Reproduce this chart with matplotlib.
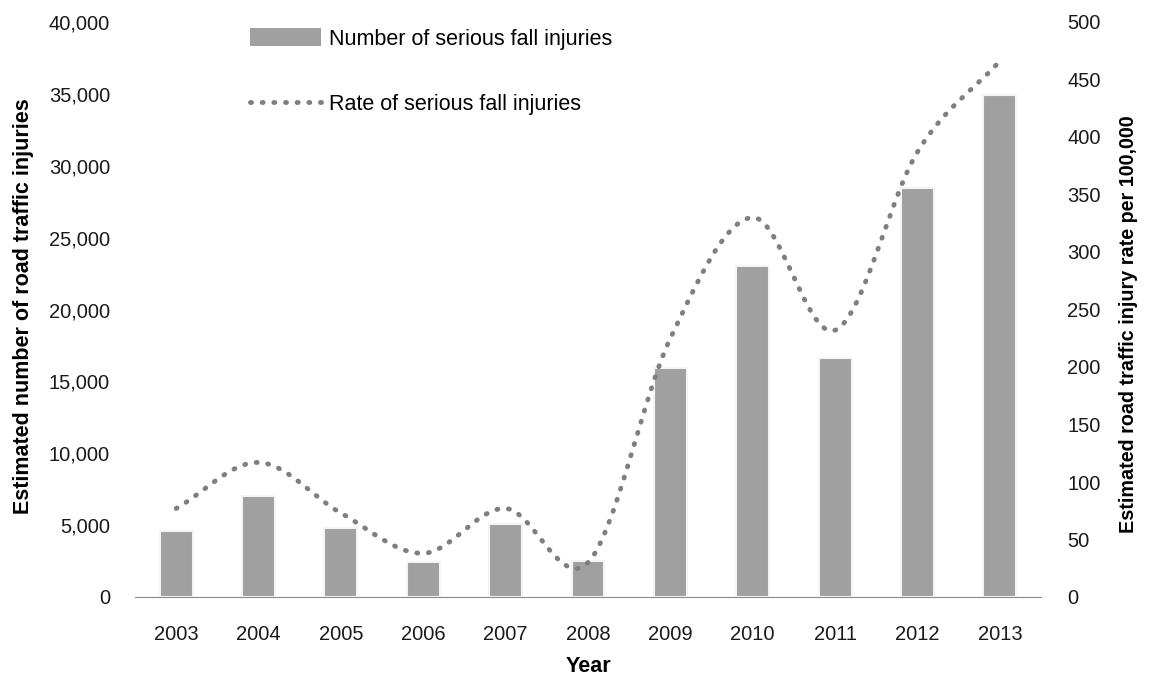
import numpy as np
import matplotlib
matplotlib.use('Agg')
import matplotlib.pyplot as plt
from matplotlib.lines import Line2D
from matplotlib.patches import Patch

years = ['2003', '2004', '2005', '2006', '2007', '2008',
         '2009', '2010', '2011', '2012', '2013']
injuries = [4600, 7050, 4800, 2450, 5080, 2500,
            15900, 23050, 16650, 28450, 34950]
rates = [77, 117, 73, 38, 77, 30, 225, 330, 232, 387, 466]

plt.rcParams['font.family'] = ['Liberation Sans', 'DejaVu Sans']


def smooth(xs, ys, n=40):
    # Catmull-Rom curve through the points, like Excel's smoothed line
    xs = np.asarray(xs, float)
    ys = np.asarray(ys, float)
    px = np.concatenate([[2 * xs[0] - xs[1]], xs, [2 * xs[-1] - xs[-2]]])
    py = np.concatenate([[2 * ys[0] - ys[1]], ys, [2 * ys[-1] - ys[-2]]])
    out_x, out_y = [], []
    t = np.linspace(0, 1, n)
    for i in range(1, len(px) - 2):
        for p, out in ((px, out_x), (py, out_y)):
            p0, p1, p2, p3 = p[i - 1], p[i], p[i + 1], p[i + 2]
            out.extend(0.5 * ((2 * p1) + (-p0 + p2) * t
                              + (2 * p0 - 5 * p1 + 4 * p2 - p3) * t ** 2
                              + (-p0 + 3 * p1 - 3 * p2 + p3) * t ** 3))
    return np.array(out_x), np.array(out_y)


fig = plt.figure(figsize=(11.54, 6.83), dpi=100)
ax = fig.add_axes([135 / 1154, 1 - 597 / 683, 906 / 1154, 575 / 683])
x = np.arange(len(years))

ax.bar(x, injuries, width=0.4, color='#a0a0a0', edgecolor='#f4f4f4',
       linewidth=1.5, zorder=2)
ax.set_ylim(0, 40000)
ax.set_xlim(-0.5, len(years) - 0.5)
ax.set_yticks(np.arange(0, 40001, 5000))
ax.set_yticklabels([f'{v:,}' for v in range(0, 40001, 5000)])
ax.set_xticks(x)
ax.set_xticklabels(years)
for s in ['top', 'right', 'left']:
    ax.spines[s].set_visible(False)
ax.spines['bottom'].set_color('#8c8c8c')
ax.tick_params(axis='both', length=0, labelsize=14.5, colors='#1a1a1a')
ax.tick_params(axis='y', pad=18)
ax.tick_params(axis='x', pad=20)
ax.set_ylabel('Estimated number of road traffic injuries', fontsize=15.5,
              fontweight='bold')
ax.yaxis.set_label_coords(-101 / 906, 0.505)
ax.set_xlabel('Year', fontsize=15.5, fontweight='bold', labelpad=9)

ax2 = ax.twinx()
sx, sy = smooth(x, rates)
ax2.plot(sx, sy, color='#7f7f7f', linestyle=(0, (0.2, 2.2)), linewidth=3.5,
         dash_capstyle='round', zorder=3)
ax2.set_ylim(0, 500)
ax2.set_yticks(np.arange(0, 501, 50))
for s in ['top', 'right', 'left', 'bottom']:
    ax2.spines[s].set_visible(False)
ax2.tick_params(axis='y', length=0, labelsize=14.5, colors='#1a1a1a', pad=19)
ax2.set_ylabel('Estimated road traffic injury rate per 100,000',
               fontsize=14.2, fontweight='bold')
ax2.yaxis.set_label_coords(1 + 78 / 906, 0.475)

handles = [Patch(facecolor='#a0a0a0', edgecolor='none'),
           Line2D([], [], color='#7f7f7f', linestyle=(0, (0.2, 2.2)),
                  linewidth=3.5, dash_capstyle='round')]
labels = ['Number of serious fall injuries', 'Rate of serious fall injuries']
leg = ax2.legend(handles, labels, loc='upper left',
                 bbox_to_anchor=(96 / 906, 1.023), frameon=False,
                 fontsize=15.5, labelspacing=2.05, handlelength=3.3,
                 handleheight=0.9, handletextpad=0.35)

fig.savefig('out.png', dpi=100)
